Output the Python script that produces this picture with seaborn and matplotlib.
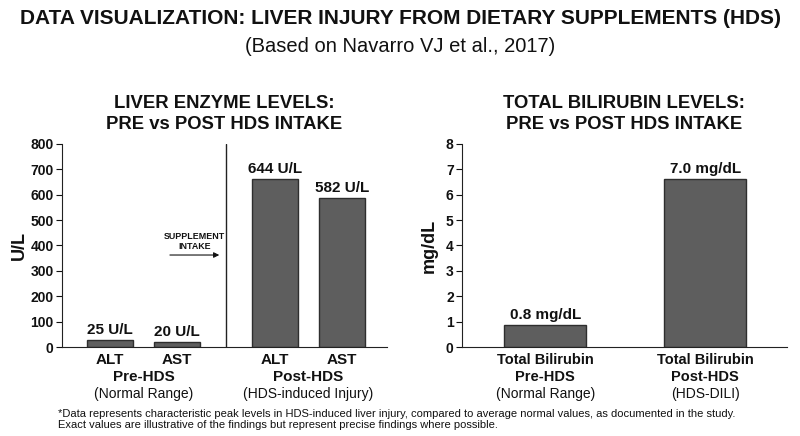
import matplotlib
matplotlib.use("Agg")
import matplotlib.pyplot as plt
import seaborn as sns

# enzyme panel
enzyme_pos = [0, 1, 2.46, 3.46]
enzyme_ticks = ["ALT", "AST", "ALT", "AST"]
enzyme_vals = [28, 20, 660, 585]
enzyme_labels = ["25 U/L", "20 U/L", "644 U/L", "582 U/L"]
enzyme_groups = ["Pre-HDS", "Post-HDS"]
enzyme_group_notes = ["(Normal Range)", "(HDS-induced Injury)"]

# bilirubin panel
bili_pos = [0, 1]
bili_ticks = ["Total Bilirubin\nPre-HDS", "Total Bilirubin\nPost-HDS"]
bili_vals = [0.85, 6.6]
bili_labels = ["0.8 mg/dL", "7.0 mg/dL"]
bili_notes = ["(Normal Range)", "(HDS-DILI)"]

sns.set_style("ticks")
plt.rcParams['font.family'] = ['Liberation Sans', 'DejaVu Sans']
plt.rcParams['text.color'] = '#111111'
plt.rcParams['axes.labelcolor'] = '#111111'
plt.rcParams['xtick.color'] = '#111111'
plt.rcParams['ytick.color'] = '#111111'

bar_color = "#5e5e5e"
edge_color = "#2e2e2e"

fig = plt.figure(figsize=(8, 4.36), dpi=100)
ax1 = fig.add_axes([0.0775, 0.204, 0.406, 0.466])
ax2 = fig.add_axes([0.5775, 0.204, 0.406, 0.466])

# left chart
sns.barplot(x=enzyme_pos, y=enzyme_vals, native_scale=True, width=0.69,
            color=bar_color, edgecolor=edge_color, linewidth=1, ax=ax1)
ax1.set_xlim(-0.72, 4.13)
ax1.set_ylim(0, 800)
ax1.set_yticks(range(0, 801, 100))
ax1.set_xticks(enzyme_pos)
ax1.set_xticklabels(enzyme_ticks, fontweight="bold", fontsize=11)
ax1.set_ylabel("U/L", fontweight="bold", fontsize=13, labelpad=2)
for p, v, t in zip(enzyme_pos, enzyme_vals, enzyme_labels):
    ax1.text(p, v + 12, t, ha="center", va="bottom", fontweight="bold", fontsize=11)
ax1.axvline(1.73, color="#222222", lw=1)
grp_x = [(enzyme_pos[0] + enzyme_pos[1]) / 2, (enzyme_pos[2] + enzyme_pos[3]) / 2]
tr1 = ax1.get_xaxis_transform()
for gx, g, n in zip(grp_x, enzyme_groups, enzyme_group_notes):
    ax1.text(gx, -0.148, g, transform=tr1, ha="center", va="center", fontweight="bold", fontsize=11)
    ax1.text(gx, -0.232, n, transform=tr1, ha="center", va="center", fontsize=10)
ax1.text(1.26, 0.52, "SUPPLEMENT\nINTAKE", transform=tr1, ha="center", va="center",
         fontweight="bold", fontsize=6.4, linespacing=1.25)
ax1.annotate("", xy=(1.67, 0.453), xytext=(0.85, 0.453), xycoords=tr1,
             arrowprops=dict(arrowstyle="-|>", color="#111111", lw=0.8, mutation_scale=8))
ax1.set_title("LIVER ENZYME LEVELS:\nPRE vs POST HDS INTAKE", fontweight="bold",
              fontsize=13.3, pad=11, linespacing=1.25)

# right chart
sns.barplot(x=bili_pos, y=bili_vals, native_scale=True, width=0.51,
            color=bar_color, edgecolor=edge_color, linewidth=1, ax=ax2)
ax2.set_xlim(-0.52, 1.51)
ax2.set_ylim(0, 8)
ax2.set_yticks(range(0, 9))
ax2.set_xticks(bili_pos)
ax2.set_xticklabels(bili_ticks, fontweight="bold", fontsize=10.5, linespacing=1.35)
ax2.set_ylabel("mg/dL", fontweight="bold", fontsize=13, labelpad=6)
for p, v, t in zip(bili_pos, bili_vals, bili_labels):
    ax2.text(p, v + 0.12, t, ha="center", va="bottom", fontweight="bold", fontsize=11)
tr2 = ax2.get_xaxis_transform()
for p, n in zip(bili_pos, bili_notes):
    ax2.text(p, -0.232, n, transform=tr2, ha="center", va="center", fontsize=10)
ax2.set_title("TOTAL BILIRUBIN LEVELS:\nPRE vs POST HDS INTAKE", fontweight="bold",
              fontsize=13.3, pad=11, linespacing=1.25)

for ax in (ax1, ax2):
    sns.despine(ax=ax)
    ax.set_xlabel("")
    for lab in ax.get_yticklabels():
        lab.set_fontweight("bold")
        lab.set_fontsize(10)
    ax.tick_params(axis="x", length=0, pad=4)
    ax.tick_params(axis="y", length=4, width=0.8, pad=2)
    for s in ax.spines.values():
        s.set_color("#222222")

fig.text(0.5, 0.958, "DATA VISUALIZATION: LIVER INJURY FROM DIETARY SUPPLEMENTS (HDS)",
         ha="center", va="center", fontweight="bold", fontsize=15)
fig.text(0.5, 0.893, "(Based on Navarro VJ et al., 2017)", ha="center", va="center", fontsize=14.5)
fig.text(0.073, 0.038,
         "*Data represents characteristic peak levels in HDS-induced liver injury, compared to average normal values, as documented in the study.\n"
         "Exact values are illustrative of the findings but represent precise findings where possible.",
         ha="left", va="center", fontsize=8, linespacing=1.15)

fig.savefig("out.png", dpi=100)
